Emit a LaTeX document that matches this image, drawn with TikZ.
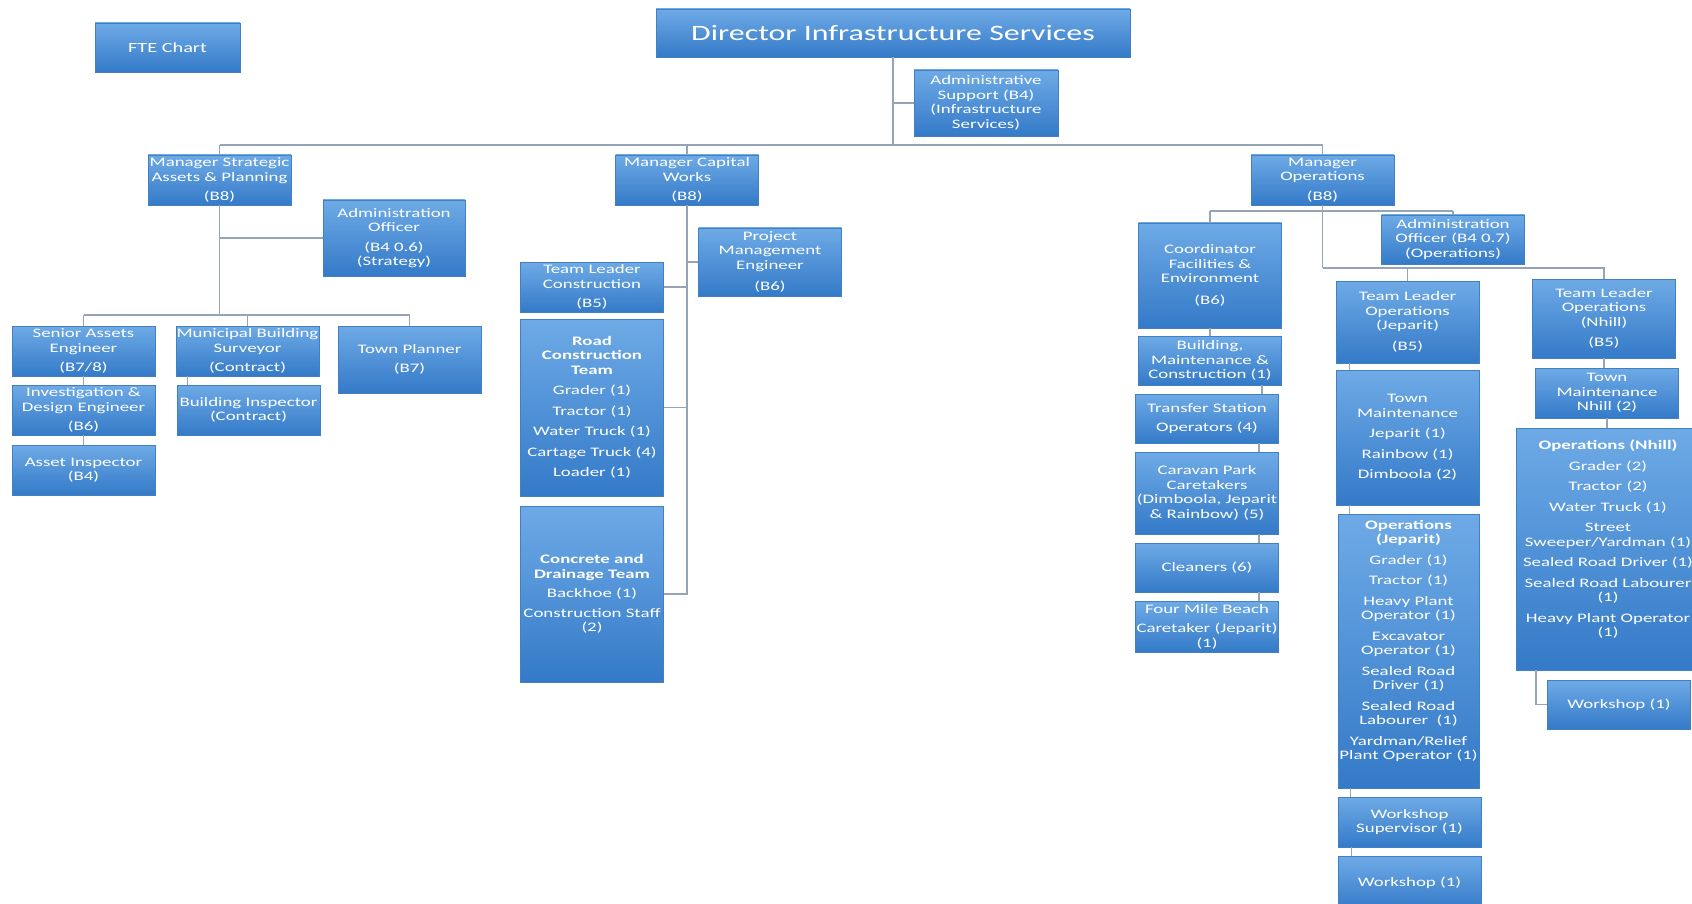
\documentclass[tikz,border=0pt]{standalone}
\usepackage{fontspec}
\setmainfont{Carlito}[FakeStretch=1.45]
\definecolor{boxtop}{RGB}{110,170,230}
\definecolor{boxbot}{RGB}{52,122,200}
\definecolor{boxline}{RGB}{66,128,196}
\definecolor{wirecol}{RGB}{150,164,184}
\begin{document}
\begin{tikzpicture}[x=1pt,y=-1pt,
	unit/.style={draw=boxline,line width=0.8pt,top color=boxtop,bottom color=boxbot,text=white,align=center,inner sep=0pt,minimum width=143,font=\fontsize{13}{14.5}\selectfont},
	wire/.style={draw=wirecol,line width=1.3pt}]
	\useasboundingbox (0,0) rectangle (1692,904);
	\clip (0,0) rectangle (1692,904);
	% top
	\node[unit,minimum width=145,minimum height=49,font=\fontsize{14}{16}\selectfont] (fte) at (167.5,47.5) {FTE Chart};
	\node[unit,minimum width=474,minimum height=48,font=\fontsize{22}{26}\selectfont] (dir) at (893,33) {Director Infrastructure Services};
	\node[unit,minimum width=144,minimum height=66] (adsup) at (986,103) {Administrative\\Support (B4)\\(Infrastructure\\Services)};
	% managers
	\node[unit,minimum height=50] (msap) at (219.5,180) {Manager Strategic\\Assets \& Planning\\[5pt](B8)};
	\node[unit,minimum height=50] (mcw) at (687,180) {Manager Capital\\Works\\[5pt](B8)};
	\node[unit,minimum height=50] (mop) at (1322.5,180) {Manager\\Operations\\[5pt](B8)};
	% strategic assets
	\node[unit,minimum width=142,minimum height=76] (adstr) at (394,238) {Administration\\Officer\\[5pt](B4 0.6)\\(Strategy)};
	\node[unit,minimum height=50] (sae) at (83.5,351) {Senior Assets\\Engineer\\[5pt](B7/8)};
	\node[unit,minimum height=50] (ide) at (83.5,410) {Investigation \&\\Design Engineer\\[5pt](B6)};
	\node[unit,minimum height=50] (ai) at (83.5,470) {Asset Inspector\\(B4)};
	\node[unit,minimum height=50] (mbs) at (247.5,351) {Municipal Building\\Surveyor\\[5pt](Contract)};
	\node[unit,minimum height=50] (bi) at (248.5,410) {Building Inspector\\(Contract)};
	\node[unit,minimum height=67] (tp) at (409.5,359.5) {Town Planner\\[5pt](B7)};
	% capital works
	\node[unit,minimum height=68] (pme) at (770,262) {Project\\Management\\Engineer\\[7pt](B6)};
	\node[unit,minimum height=50] (tlc) at (592,287) {Team Leader\\Construction\\[5pt](B5)};
	\node[unit,minimum height=177] (rct) at (592,407.5) {\textbf{Road}\\\textbf{Construction}\\\textbf{Team}\\[6pt]Grader (1)\\[6pt]Tractor (1)\\[6pt]Water Truck (1)\\[6pt]Cartage Truck (4)\\[6pt]Loader (1)};
	\node[unit,minimum height=176] (cdt) at (592,594) {\textbf{Concrete and}\\\textbf{Drainage Team}\\[5pt]Backhoe (1)\\[5pt]Construction Staff\\(2)};
	% operations
	\node[unit,minimum height=105] (cfe) at (1210,275.5) {Coordinator\\Facilities \&\\Environment\\[7pt](B6)};
	\node[unit,minimum height=49] (aop) at (1453,239.5) {Administration\\Officer (B4 0.7)\\(Operations)};
	\node[unit,minimum height=49] (bmc) at (1210,360.5) {Building,\\Maintenance \&\\Construction (1)};
	\node[unit,minimum height=49] (tso) at (1207,418.5) {Transfer Station\\[5pt]Operators (4)};
	\node[unit,minimum height=82] (cpc) at (1207,493) {Caravan Park\\Caretakers\\(Dimboola, Jeparit\\\& Rainbow) (5)};
	\node[unit,minimum height=49] (cln) at (1207,567.5) {Cleaners (6)};
	\node[unit,minimum height=51] (fmb) at (1207,626.5) {Four Mile Beach\\[5pt]Caretaker (Jeparit)\\(1)};
	\node[unit,minimum height=82] (tlj) at (1407.5,322) {Team Leader\\Operations\\(Jeparit)\\[6pt](B5)};
	\node[unit,minimum height=135] (tmj) at (1407.5,437.5) {Town\\Maintenance\\[6pt]Jeparit (1)\\[6pt]Rainbow (1)\\[6pt]Dimboola (2)};
	\node[unit,minimum width=141,minimum height=274] (opj) at (1408.5,651) {\textbf{Operations}\\\textbf{(Jeparit)}\\[6pt]Grader (1)\\[6pt]Tractor (1)\\[6pt]Heavy Plant\\Operator (1)\\[6pt]Excavator\\Operator (1)\\[6pt]Sealed Road\\Driver (1)\\[6pt]Sealed Road\\Labourer~ (1)\\[6pt]Yardman/Relief\\Plant Operator (1)\\[8pt]\mbox{}};
	\node[unit,minimum height=50] (wsj) at (1409.5,822) {Workshop\\Supervisor (1)};
	\node[unit,minimum height=54] (wkj) at (1409.5,883) {Workshop (1)};
	\node[unit,minimum height=79] (tln) at (1604,318.5) {Team Leader\\Operations\\(Nhill)\\[6pt](B5)};
	\node[unit,minimum height=50] (tmn) at (1607,393) {Town\\Maintenance\\Nhill (2)};
	\node[unit,minimum width=184,minimum height=242] (opn) at (1608,549) {\textbf{Operations (Nhill)}\\[6pt]Grader (2)\\[6pt]Tractor (2)\\[6pt]Water Truck (1)\\[6pt]Street\\Sweeper/Yardman (1)\\[6pt]Sealed Road Driver (1)\\[6pt]Sealed Road Labourer\\(1)\\[6pt]Heavy Plant Operator\\(1)\\[7pt]\mbox{}};
	\node[unit,minimum height=49] (wkn) at (1619,704.5) {Workshop (1)};
	% main bus
	\coordinate (bus) at (893,145);
	\draw[wire] (dir.south) -- (bus);
	\draw[wire] (dir.south |- adsup.west) -- (adsup.west);
	\draw[wire] (msap.north |- bus) -- (mop.north |- bus);
	\draw[wire] (msap.north |- bus) -- (msap.north);
	\draw[wire] (mcw.north |- bus) -- (mcw.north);
	\draw[wire] (mop.north |- bus) -- (mop.north);
	% strategic assets
	\coordinate (lbus) at (219.5,315);
	\draw[wire] (msap.south) -- (lbus);
	\draw[wire] (msap.south |- adstr.west) -- (adstr.west);
	\draw[wire] (sae.north |- lbus) -- (tp.north |- lbus);
	\draw[wire] (sae.north |- lbus) -- (sae.north);
	\draw[wire] (mbs.north |- lbus) -- (mbs.north);
	\draw[wire] (tp.north |- lbus) -- (tp.north);
	\draw[wire] (sae.south) -- (ide.north);
	\draw[wire] (ide.south) -- (ai.north);
	\draw[wire] ([xshift=-60]mbs.south) -- ([xshift=-60]mbs.south |- bi.north);
	% capital works
	\draw[wire] (mcw.south) -- (mcw.south |- cdt.east) -- (cdt.east);
	\draw[wire] (mcw.south |- pme.west) -- (pme.west);
	\draw[wire] (mcw.south |- tlc.east) -- (tlc.east);
	\draw[wire] (mcw.south |- rct.east) -- (rct.east);
	% operations
	\coordinate (rs1) at (1322.5,211);
	\coordinate (rs2) at (1322.5,268);
	\draw[wire] (mop.south) -- (rs2);
	\draw[wire] (cfe.north |- rs1) -- (aop.north |- rs1);
	\draw[wire] (cfe.north |- rs1) -- (cfe.north);
	\draw[wire] (aop.north |- rs1) -- (aop.north);
	\draw[wire] (rs2) -- (tln.north |- rs2) -- (tln.north);
	\draw[wire] (tlj.north |- rs2) -- (tlj.north);
	\draw[wire] (cfe.south) -- (cfe.south |- bmc.north);
	\foreach \a/\b in {bmc/tso,tso/cpc,cpc/cln,cln/fmb}
		\draw[wire] ([xshift=52]\a.south) -- ([xshift=52]\a.south |- \b.north);
	\foreach \a/\b in {tlj/tmj,tmj/opj,opj/wsj,wsj/wkj}
		\draw[wire] ([xshift=-58]\a.south) -- ([xshift=-58]\a.south |- \b.north);
	\draw[wire] (tln.south) -- (tln.south |- tmn.north);
	\draw[wire] (tmn.south) -- (tmn.south |- opn.north);
	\draw[wire] ([xshift=-72]opn.south) |- (wkn.west);
\end{tikzpicture}
\end{document}
